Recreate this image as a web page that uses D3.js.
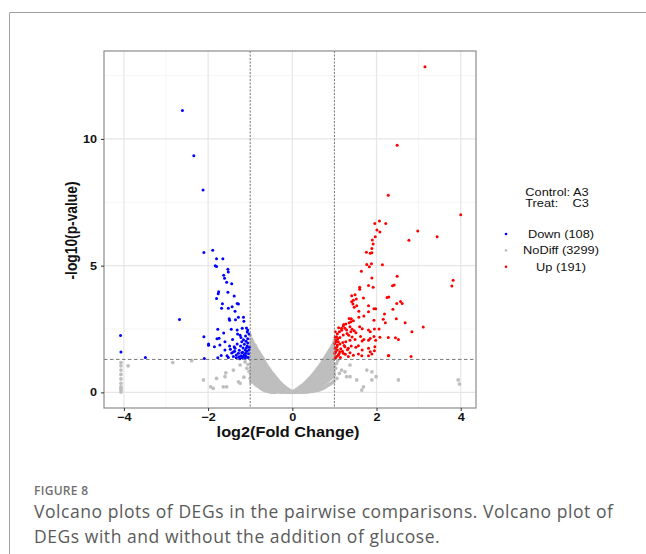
<!DOCTYPE html>
<html>
<head>
<meta charset="utf-8">
<script src="https://cdn.jsdelivr.net/npm/d3@7"></script>
<style>
  body { margin: 0; background: #fff; }
  text { font-family: "Liberation Sans", Arial, sans-serif; }
</style>
</head>
<body>
<svg id="chart" width="646" height="554"></svg>
<script>
// tick values
const xTicks = [-4, -2, 0, 2, 4];
const yTicks = [0, 5, 10];
const xMinor = [-3, -1, 1, 3];
const yMinor = [2.5, 7.5, 12.5];

// thresholds
const fcCut = [-1, 1];
const pCut = 1.301;

// legend
const legendTitle = ["Control: A3", "Treat:    C3"];
const groups = ["Down", "NoDiff", "Up"];
const groupLabels = ["Down (108)", "NoDiff (3299)", "Up (191)"];
const groupColors = ["#0000ff", "#bebebe", "#ff0000"];

// down-regulated genes [log2FC, -log10 p]
const downPts = [
  [-2.61, 11.12], [-2.34, 9.34], [-2.12, 7.99], [-4.08, 2.24], [-4.07, 1.59], [-3.49, 1.38],
  [-2.10, 5.52], [-1.89, 5.61], [-1.80, 5.27], [-1.65, 5.27], [-1.83, 5.00], [-1.80, 4.97],
  [-1.53, 4.86], [-1.52, 4.75], [-1.63, 4.62], [-1.61, 4.50], [-1.56, 4.35], [-1.44, 4.29],
  [-1.75, 3.97], [-1.76, 3.89], [-1.53, 3.95], [-1.38, 3.80], [-1.80, 3.70], [-1.66, 3.50],
  [-1.31, 3.51], [-1.28, 3.49], [-1.68, 3.32], [-1.52, 3.32], [-1.43, 3.38], [-1.36, 3.20],
  [-2.68, 2.88], [-1.50, 2.91], [-1.49, 2.85], [-1.35, 2.87], [-1.28, 2.96], [-1.16, 2.96],
  [-1.15, 2.81], [-1.77, 2.49], [-1.63, 2.34], [-1.45, 2.49], [-1.31, 2.46], [-1.19, 2.53],
  [-1.09, 2.54], [-1.06, 2.46], [-2.10, 2.20], [-1.99, 1.91], [-1.99, 1.86], [-1.79, 2.12],
  [-1.74, 2.14], [-1.60, 2.00], [-1.42, 2.09], [-1.24, 2.25], [-1.22, 2.17], [-1.16, 2.08],
  [-1.11, 2.22], [-1.06, 2.12], [-1.85, 1.80], [-1.72, 1.87], [-1.60, 1.67], [-1.49, 1.83],
  [-1.38, 1.80], [-1.31, 1.91], [-1.36, 1.74], [-1.23, 1.83], [-1.17, 1.75], [-1.12, 1.67],
  [-1.07, 1.83], [-1.03, 1.67], [-2.09, 1.34], [-1.77, 1.37], [-1.55, 1.45], [-1.52, 1.38],
  [-1.40, 1.42], [-1.33, 1.37], [-1.27, 1.41], [-1.20, 1.37], [-1.15, 1.47], [-1.10, 1.43],
  [-1.05, 1.38], [-1.40, 1.59], [-1.28, 1.54], [-1.20, 1.56], [-1.11, 1.54], [-1.69, 1.46],
  [-1.04, 1.52], [-1.08, 1.62], [-1.13, 1.49], [-1.18, 1.58], [-1.22, 1.45], [-1.26, 1.66],
  [-1.06, 1.95], [-1.10, 2.02], [-1.14, 1.90], [-1.20, 2.00], [-1.03, 2.30], [-1.07, 2.38],
  [-1.12, 1.35], [-1.17, 1.40], [-1.25, 1.33], [-1.33, 1.48], [-1.37, 1.62], [-1.44, 1.55],
  [-1.47, 1.70], [-1.30, 2.30], [-1.02, 1.78], [-1.09, 1.76]
];

// up-regulated genes
const upPts = [
  [3.15, 12.85], [2.49, 9.75], [2.28, 7.78], [4.00, 7.01], [2.98, 6.37], [2.77, 6.00],
  [3.44, 6.14], [3.82, 4.42], [3.79, 4.20], [3.11, 2.58], [2.84, 2.39], [2.82, 1.42],
  [2.29, 1.46], [2.68, 2.75], [2.42, 4.24],
  [2.07, 6.76], [1.96, 6.66], [2.22, 6.66], [2.01, 6.41], [2.08, 6.33], [1.97, 6.14],
  [1.90, 6.01], [1.92, 5.85], [1.89, 5.68], [1.76, 5.53], [1.85, 5.49], [1.89, 5.51],
  [1.77, 5.05], [1.88, 5.08], [1.83, 4.96], [2.14, 5.04], [1.64, 4.78], [1.89, 4.51],
  [2.49, 4.58], [1.81, 4.22], [1.92, 4.15], [1.60, 4.15], [1.60, 4.07], [2.38, 4.21],
  [1.49, 3.85], [1.41, 3.81], [1.52, 3.68], [1.41, 3.58], [1.44, 3.49], [1.53, 3.42],
  [1.47, 3.36], [1.45, 3.64], [2.29, 3.76], [2.25, 3.74], [1.69, 3.72], [1.81, 3.42],
  [1.94, 3.30], [1.98, 3.30], [2.48, 3.51], [2.57, 3.59], [2.61, 3.51], [2.39, 3.28],
  [1.58, 3.20], [1.70, 3.01], [1.58, 2.96], [1.81, 3.18], [2.19, 3.09], [2.16, 2.89],
  [1.35, 2.92], [1.40, 2.91], [1.45, 2.83], [1.39, 2.79], [1.35, 2.75], [2.47, 2.91],
  [1.94, 2.85], [1.27, 2.70], [1.21, 2.62], [1.17, 2.53], [1.25, 2.53], [1.29, 2.46],
  [1.37, 2.59], [1.42, 2.49], [1.47, 2.43], [1.39, 2.39], [1.51, 2.35], [1.60, 2.59],
  [1.66, 2.51], [1.95, 2.50], [2.06, 2.50], [2.21, 2.75], [1.81, 2.46], [1.85, 2.39],
  [1.02, 2.39], [1.07, 2.31], [1.12, 2.39], [1.05, 2.20], [1.13, 2.17], [1.21, 2.26],
  [1.34, 2.25], [1.42, 2.19], [1.49, 2.09], [1.37, 2.06], [1.62, 2.21], [1.66, 2.03],
  [1.70, 2.09], [1.94, 2.21], [1.98, 2.06], [2.08, 2.18], [2.28, 2.17], [2.45, 2.16],
  [2.52, 2.09], [1.85, 2.13], [1.81, 2.06], [1.04, 2.06], [1.09, 2.00], [1.01, 1.93],
  [1.07, 1.87], [1.13, 1.91], [1.20, 1.97], [1.25, 1.80], [1.33, 1.74], [1.40, 1.83],
  [1.51, 1.78], [1.57, 1.84], [1.02, 1.74], [1.07, 1.67], [1.13, 1.60], [1.01, 1.54],
  [1.09, 1.47], [1.21, 1.54], [1.66, 1.67], [1.81, 1.74], [1.85, 1.60], [1.96, 1.80],
  [1.95, 1.64], [1.37, 1.56], [1.45, 1.47], [1.57, 1.51], [1.65, 1.45], [1.81, 1.45],
  [1.89, 1.51], [2.28, 1.45],
  [1.02, 1.35], [1.05, 1.42], [1.03, 1.60], [1.06, 1.80], [1.04, 2.00], [1.08, 2.12],
  [1.11, 1.52], [1.15, 1.72], [1.14, 1.38], [1.19, 1.62], [1.23, 1.85], [1.27, 2.00],
  [1.17, 2.45], [1.22, 2.68], [1.30, 2.32], [1.33, 1.42], [1.02, 2.18], [1.10, 2.55],
  [1.26, 1.50], [1.31, 1.68]
];

// not significant: columns of [log2FC, [-log10 p values]]
const noDiffCols = [
  [-1.00, [2.25, 1.95, 1.7, 1.4, 1.1, 0.8, 0.55]],
  [-0.985, [2.1, 1.825, 1.55, 1.25, 0.95, 0.675, 0.4]],
  [-0.97, [2.1, 1.85, 1.55, 1.25, 0.95, 0.7]],
  [-0.955, [1.975, 1.7, 1.4, 1.1, 0.825, 0.5]],
  [-0.94, [2.0, 1.75, 1.5, 1.2, 0.9, 0.6]],
  [-0.925, [1.875, 1.625, 1.35, 1.05, 0.75, 0.42]],
  [-0.91, [1.9, 1.65, 1.35, 1.05, 0.8, 0.5]],
  [-0.895, [1.775, 1.5, 1.2, 0.925, 0.65, 0.35]],
  [-0.88, [1.85, 1.6, 1.3, 1.0, 0.72, 0.45]],
  [-0.865, [1.725, 1.45, 1.15, 0.86, 0.585, 0.3]],
  [-0.85, [1.75, 1.5, 1.22, 0.95, 0.66, 0.4]],
  [-0.835, [1.625, 1.36, 1.085, 0.805, 0.53, 0.27]],
  [-0.82, [1.65, 1.4, 1.15, 0.88, 0.6, 0.35]],
  [-0.805, [1.525, 1.275, 1.015, 0.74, 0.475, 0.24]],
  [-0.79, [1.58, 1.33, 1.05, 0.8, 0.52, 0.3]],
  [-0.775, [1.455, 1.19, 0.925, 0.66, 0.41, 0.2]],
  [-0.76, [1.5, 1.25, 1.0, 0.75, 0.48, 0.26]],
  [-0.745, [1.375, 1.125, 0.875, 0.615, 0.37, 0.16]],
  [-0.73, [1.42, 1.18, 0.92, 0.68, 0.42, 0.22]],
  [-0.715, [1.3, 1.05, 0.8, 0.55, 0.32, 0.13]],
  [-0.70, [1.35, 1.1, 0.86, 0.6, 0.38, 0.18]],
  [-0.685, [1.225, 0.98, 0.73, 0.49, 0.28, 0.1]],
  [-0.67, [1.26, 1.02, 0.8, 0.55, 0.33, 0.15]],
  [-0.655, [1.14, 0.91, 0.675, 0.44, 0.24, 0.08]],
  [-0.64, [1.16, 0.95, 0.72, 0.5, 0.3, 0.12]],
  [-0.625, [1.055, 0.835, 0.61, 0.4, 0.21, 0.06]],
  [-0.61, [1.08, 0.88, 0.66, 0.45, 0.26, 0.1]],
  [-0.595, [0.98, 0.77, 0.555, 0.355, 0.18, 0.05]],
  [-0.58, [1.0, 0.8, 0.6, 0.4, 0.22, 0.08]],
  [-0.565, [0.9, 0.7, 0.5, 0.31, 0.15, 0.04]],
  [-0.55, [0.93, 0.74, 0.55, 0.36, 0.18, 0.06]],
  [-0.535, [0.835, 0.645, 0.455, 0.27, 0.12, 0.03]],
  [-0.52, [0.86, 0.68, 0.5, 0.32, 0.16, 0.05]],
  [-0.505, [0.77, 0.59, 0.41, 0.24, 0.105, 0.02]],
  [-0.49, [0.78, 0.62, 0.45, 0.29, 0.14, 0.04]],
  [-0.475, [0.7, 0.535, 0.37, 0.215, 0.09, 0.02]],
  [-0.46, [0.72, 0.56, 0.4, 0.26, 0.12, 0.03]],
  [-0.445, [0.64, 0.48, 0.33, 0.19, 0.075, 0.01]],
  [-0.43, [0.66, 0.5, 0.36, 0.22, 0.1, 0.03]],
  [-0.415, [0.58, 0.43, 0.29, 0.16, 0.065, 0.01]],
  [-0.40, [0.6, 0.46, 0.32, 0.2, 0.08, 0.02]],
  [-0.385, [0.53, 0.39, 0.26, 0.14, 0.05]],
  [-0.37, [0.54, 0.41, 0.28, 0.17, 0.07]],
  [-0.355, [0.475, 0.345, 0.225, 0.12, 0.03]],
  [-0.34, [0.48, 0.36, 0.25, 0.14, 0.06]],
  [-0.325, [0.42, 0.305, 0.195, 0.1, 0.03]],
  [-0.31, [0.42, 0.32, 0.22, 0.12, 0.05]],
  [-0.295, [0.37, 0.27, 0.17, 0.085, 0.02]],
  [-0.28, [0.37, 0.28, 0.19, 0.1, 0.04]],
  [-0.265, [0.325, 0.235, 0.145, 0.07, 0.01]],
  [-0.25, [0.32, 0.24, 0.16, 0.08, 0.03]],
  [-0.235, [0.28, 0.2, 0.12, 0.055, 0.01]],
  [-0.22, [0.27, 0.2, 0.13, 0.06, 0.02]],
  [-0.205, [0.235, 0.165, 0.095, 0.04]],
  [-0.19, [0.23, 0.17, 0.1, 0.05]],
  [-0.175, [0.2, 0.135, 0.075, 0.02]],
  [-0.16, [0.19, 0.13, 0.08, 0.04]],
  [-0.145, [0.16, 0.105, 0.06, 0.02]],
  [-0.13, [0.15, 0.1, 0.06, 0.03]],
  [-0.115, [0.125, 0.08, 0.045, 0.01]],
  [-0.10, [0.11, 0.07, 0.04]],
  [-0.085, [0.09, 0.055, 0.02]],
  [-0.07, [0.08, 0.05, 0.02]],
  [-0.055, [0.065, 0.035, 0.01]],
  [-0.04, [0.05, 0.03, 0.01]],
  [-0.025, [0.04, 0.02]],
  [-0.01, [0.02, 0.01]],
  [0.005, [0.015]],
  [0.02, [0.03, 0.01]],
  [0.035, [0.02]],
  [0.05, [0.06, 0.03, 0.01]],
  [0.065, [0.045, 0.02]],
  [0.08, [0.09, 0.05, 0.02]],
  [0.095, [0.07, 0.035]],
  [0.11, [0.12, 0.08, 0.04]],
  [0.125, [0.1, 0.06, 0.02]],
  [0.14, [0.16, 0.11, 0.06, 0.03]],
  [0.155, [0.135, 0.085, 0.045, 0.01]],
  [0.17, [0.2, 0.14, 0.08, 0.04]],
  [0.185, [0.17, 0.11, 0.06, 0.02]],
  [0.20, [0.23, 0.17, 0.11, 0.05]],
  [0.215, [0.2, 0.14, 0.08, 0.02]],
  [0.23, [0.27, 0.2, 0.13, 0.06, 0.02]],
  [0.245, [0.235, 0.165, 0.095, 0.04]],
  [0.26, [0.31, 0.23, 0.15, 0.08, 0.03]],
  [0.275, [0.27, 0.19, 0.115, 0.055, 0.01]],
  [0.29, [0.35, 0.26, 0.18, 0.1, 0.04]],
  [0.305, [0.305, 0.22, 0.14, 0.07, 0.02]],
  [0.32, [0.4, 0.3, 0.2, 0.11, 0.05]],
  [0.335, [0.35, 0.25, 0.155, 0.08, 0.02]],
  [0.35, [0.45, 0.34, 0.23, 0.13, 0.06]],
  [0.365, [0.395, 0.285, 0.18, 0.095, 0.03]],
  [0.38, [0.5, 0.38, 0.26, 0.15, 0.07]],
  [0.395, [0.44, 0.32, 0.205, 0.11, 0.03]],
  [0.41, [0.55, 0.42, 0.29, 0.17, 0.08]],
  [0.425, [0.485, 0.355, 0.23, 0.125, 0.04]],
  [0.44, [0.6, 0.46, 0.32, 0.19, 0.09]],
  [0.455, [0.53, 0.39, 0.255, 0.14, 0.04]],
  [0.47, [0.66, 0.5, 0.36, 0.22, 0.1]],
  [0.485, [0.58, 0.43, 0.29, 0.16, 0.05]],
  [0.50, [0.72, 0.55, 0.4, 0.25, 0.12]],
  [0.515, [0.635, 0.475, 0.325, 0.185, 0.06]],
  [0.53, [0.78, 0.6, 0.44, 0.28, 0.14]],
  [0.545, [0.69, 0.52, 0.36, 0.21, 0.07]],
  [0.56, [0.85, 0.66, 0.48, 0.31, 0.16]],
  [0.575, [0.755, 0.57, 0.395, 0.235, 0.08]],
  [0.59, [0.92, 0.72, 0.52, 0.34, 0.18]],
  [0.605, [0.82, 0.62, 0.43, 0.26, 0.09]],
  [0.62, [0.98, 0.78, 0.57, 0.38, 0.2]],
  [0.635, [0.88, 0.675, 0.475, 0.29, 0.1]],
  [0.65, [1.05, 0.84, 0.62, 0.42, 0.23]],
  [0.665, [0.945, 0.73, 0.52, 0.325, 0.12]],
  [0.68, [1.12, 0.9, 0.67, 0.46, 0.26]],
  [0.695, [1.01, 0.785, 0.565, 0.36, 0.14]],
  [0.71, [1.2, 0.96, 0.72, 0.5, 0.3]],
  [0.725, [1.08, 0.84, 0.61, 0.4, 0.16]],
  [0.74, [1.28, 1.03, 0.78, 0.55, 0.33]],
  [0.755, [1.155, 0.905, 0.665, 0.44, 0.19]],
  [0.77, [1.36, 1.1, 0.84, 0.6, 0.37]],
  [0.785, [1.23, 0.97, 0.72, 0.485, 0.22]],
  [0.80, [1.44, 1.17, 0.9, 0.65, 0.4]],
  [0.815, [1.305, 1.035, 0.775, 0.525, 0.25]],
  [0.83, [1.52, 1.24, 0.96, 0.7, 0.44]],
  [0.845, [1.38, 1.1, 0.83, 0.57, 0.28]],
  [0.86, [1.6, 1.32, 1.02, 0.75, 0.48]],
  [0.875, [1.46, 1.17, 0.885, 0.615, 0.31]],
  [0.89, [1.68, 1.4, 1.1, 0.8, 0.52]],
  [0.905, [1.54, 1.25, 0.95, 0.66, 0.34]],
  [0.92, [1.76, 1.48, 1.18, 0.86, 0.56]],
  [0.935, [1.62, 1.33, 1.02, 0.71, 0.37]],
  [0.95, [1.85, 1.55, 1.25, 0.92, 0.6]],
  [0.965, [1.7, 1.4, 1.085, 0.76, 0.4]],
  [0.98, [1.95, 1.62, 1.3, 0.98, 0.65]],
  [0.99, [1.785, 1.46, 1.14, 0.815, 0.45]],
  [1.00, [2.05, 1.7, 1.38, 1.02, 0.7]]
];

// scattered non-significant genes outside the V
const noDiffScatter = [
  [-4.07, 1.18], [-4.07, 1.05], [-4.07, 0.88], [-4.07, 0.71], [-4.07, 0.53], [-4.07, 0.36],
  [-4.07, 0.22], [-4.07, 0.16], [-4.07, 0.09], [-4.07, 0.02], [-3.90, 1.05], [-2.84, 1.18],
  [-2.39, 1.25], [-2.11, 0.49], [-1.94, 0.22], [-1.88, 0.16], [-1.80, 0.55], [-1.60, 0.62],
  [-1.64, 0.22], [-1.58, 0.77], [-1.56, 0.22], [-1.40, 0.88], [-1.28, 0.42], [-1.24, 1.08],
  [-1.24, 0.36], [-1.12, 1.2], [-1.08, 0.95], [-1.15, 0.6], [-1.05, 1.1], [-1.03, 0.82],
  [1.05, 1.14], [1.12, 0.75], [1.17, 0.88], [1.25, 0.81], [1.37, 1.08], [1.29, 0.62],
  [1.37, 0.62], [1.53, 0.49], [1.65, 0.09], [1.69, 0.22], [1.77, 0.88], [1.89, 0.81],
  [1.89, 0.49], [1.99, 0.62], [2.52, 0.49], [3.94, 0.49], [3.97, 0.33], [1.08, 1.25],
  [1.03, 0.95], [1.06, 0.55]
];

const noDiffPts = noDiffCols.flatMap(([x, ys]) => ys.map(y => [x, y])).concat(noDiffScatter);

// caption
const figLabel = "FIGURE 8";
const captionLines = [
  "Volcano plots of DEGs in the pairwise comparisons. Volcano plot of",
  "DEGs with and without the addition of glucose."
];

const svg = d3.select("#chart");

// page frame
svg.append("path")
  .attr("d", "M9.5,554 V12.5 H646")
  .attr("fill", "none")
  .attr("stroke", "#a0a0a0")
  .attr("stroke-width", 1);

const panel = { left: 104, right: 476, top: 51, bottom: 408 };

const xScale = d3.scaleLinear().domain([-4.473, 4.363]).range([panel.left, panel.right]);
const yScale = d3.scaleLinear().domain([-0.616, 13.47]).range([panel.bottom, panel.top]);

// panel background
svg.append("rect")
  .attr("x", panel.left).attr("y", panel.top)
  .attr("width", panel.right - panel.left).attr("height", panel.bottom - panel.top)
  .attr("fill", "#fff");

// grid
const grid = svg.append("g");
grid.selectAll(".xminor").data(xMinor).enter().append("line")
  .attr("x1", d => xScale(d)).attr("x2", d => xScale(d))
  .attr("y1", panel.top).attr("y2", panel.bottom)
  .attr("stroke", "#f2f2f2").attr("stroke-width", 0.8);
grid.selectAll(".yminor").data(yMinor).enter().append("line")
  .attr("y1", d => yScale(d)).attr("y2", d => yScale(d))
  .attr("x1", panel.left).attr("x2", panel.right)
  .attr("stroke", "#f2f2f2").attr("stroke-width", 0.8);
grid.selectAll(".xmajor").data(xTicks).enter().append("line")
  .attr("x1", d => xScale(d)).attr("x2", d => xScale(d))
  .attr("y1", panel.top).attr("y2", panel.bottom)
  .attr("stroke", "#e6e6e6").attr("stroke-width", 1.2);
grid.selectAll(".ymajor").data(yTicks).enter().append("line")
  .attr("y1", d => yScale(d)).attr("y2", d => yScale(d))
  .attr("x1", panel.left).attr("x2", panel.right)
  .attr("stroke", "#e6e6e6").attr("stroke-width", 1.2);

// points
const pts = svg.append("g");
pts.selectAll(".nd").data(noDiffPts).enter().append("circle")
  .attr("cx", d => xScale(d[0])).attr("cy", d => yScale(d[1]))
  .attr("r", 1.85).attr("fill", groupColors[1]);
pts.selectAll(".dn").data(downPts).enter().append("circle")
  .attr("cx", d => xScale(d[0])).attr("cy", d => yScale(d[1]))
  .attr("r", 1.5).attr("fill", groupColors[0]);
pts.selectAll(".up").data(upPts).enter().append("circle")
  .attr("cx", d => xScale(d[0])).attr("cy", d => yScale(d[1]))
  .attr("r", 1.5).attr("fill", groupColors[2]);

// threshold lines
svg.selectAll(".vcut").data(fcCut).enter().append("line")
  .attr("x1", d => xScale(d)).attr("x2", d => xScale(d))
  .attr("y1", panel.top).attr("y2", panel.bottom)
  .attr("stroke", "#777").attr("stroke-width", 1)
  .attr("stroke-dasharray", "2,1.5");
svg.append("line")
  .attr("x1", panel.left).attr("x2", panel.right)
  .attr("y1", yScale(pCut)).attr("y2", yScale(pCut))
  .attr("stroke", "#777").attr("stroke-width", 1)
  .attr("stroke-dasharray", "3.5,2.5");

// panel border
svg.append("rect")
  .attr("x", panel.left).attr("y", panel.top)
  .attr("width", panel.right - panel.left).attr("height", panel.bottom - panel.top)
  .attr("fill", "none").attr("stroke", "#8c8c8c").attr("stroke-width", 1.2);

// axes
const xAxis = svg.append("g")
  .attr("transform", `translate(0, ${panel.bottom})`)
  .call(d3.axisBottom(xScale).tickValues(xTicks).tickSize(3).tickPadding(2).tickFormat(d3.format("d")));
const yAxis = svg.append("g")
  .attr("transform", `translate(${panel.left}, 0)`)
  .call(d3.axisLeft(yScale).tickValues(yTicks).tickSize(3).tickPadding(3).tickFormat(d3.format("d")));

[xAxis, yAxis].forEach(ax => {
  ax.select(".domain").remove();
  ax.selectAll("line").attr("stroke", "#333");
  ax.selectAll("text")
    .style("font-size", "11px")
    .style("font-weight", "bold")
    .attr("fill", "#111");
});
xAxis.selectAll("text").attr("transform", "scale(1.15,1)");
yAxis.selectAll("text").attr("transform", "scale(1.15,1)");

// axis titles
svg.append("text")
  .attr("transform", `translate(${(panel.left + panel.right) / 2 - 2}, 437) scale(1.18,1)`)
  .attr("text-anchor", "middle")
  .style("font-size", "13.8px").style("font-weight", "bold")
  .attr("fill", "#111")
  .text("log2(Fold Change)");
svg.append("text")
  .attr("transform", `translate(77, ${(panel.top + panel.bottom) / 2 + 1}) scale(1.18,1) rotate(-90)`)
  .attr("text-anchor", "middle")
  .style("font-size", "13.8px").style("font-weight", "bold")
  .attr("fill", "#111")
  .text("-log10(p-value)");

// legend
const legend = svg.append("g");
legend.selectAll(".lt").data(legendTitle).enter().append("text")
  .attr("transform", (d, i) => `translate(557, ${196 + i * 10.5}) scale(1.22,1)`)
  .attr("text-anchor", "middle")
  .style("font-size", "10.5px")
  .style("white-space", "pre")
  .attr("fill", "#111")
  .text(d => d);
const items = legend.selectAll(".li").data(groups).enter().append("g")
  .attr("transform", (d, i) => `translate(0, ${234 + i * 16.4})`);
items.append("circle")
  .attr("cx", 506).attr("cy", 0).attr("r", 1.3)
  .attr("fill", (d, i) => groupColors[i]);
items.append("text")
  .attr("transform", "translate(561, 3.7) scale(1.22,1)")
  .attr("text-anchor", "middle")
  .style("font-size", "10.5px")
  .attr("fill", "#111")
  .text((d, i) => groupLabels[i]);

// caption
svg.append("text")
  .attr("x", 34).attr("y", 495)
  .style("font-family", "'Open Sans', sans-serif")
  .style("font-size", "12px").style("font-weight", "600")
  .style("letter-spacing", "0.3px")
  .attr("fill", "#707070")
  .text(figLabel);
svg.selectAll(".cap").data(captionLines).enter().append("text")
  .attr("x", 34).attr("y", (d, i) => 518 + i * 25)
  .style("font-family", "'Open Sans', sans-serif")
  .style("font-size", "17.5px")
  .style("letter-spacing", "0.55px")
  .attr("fill", "#5a5a5a")
  .text(d => d);
</script>
</body>
</html>
